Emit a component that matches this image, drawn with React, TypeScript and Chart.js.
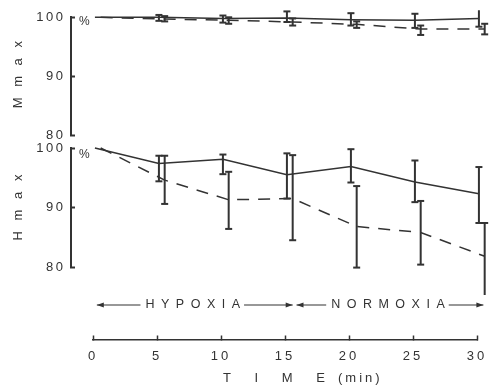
import React, { useEffect, useRef } from 'react';
import { Chart, registerables } from 'chart.js';

Chart.register(...registerables);

// ---------- data ----------
const TIMES = [0, 5, 10, 15, 20, 25, 30];
const X_TICKS = [0, 5, 10, 15, 20, 25, 30];
const Y_TICKS = [80, 90, 100];

// Mmax (upper panel)
const MMAX_SOLID = [100, 100.0, 99.8, 99.9, 99.6, 99.5, 99.8];
const MMAX_SOLID_HI = [null, 100.4, 100.3, 101.0, 100.7, 100.6, 101.2];
const MMAX_SOLID_LO = [null, 99.4, 99.1, 99.2, 98.6, 98.2, 98.4];
const MMAX_DASHED = [100, 99.7, 99.5, 99.2, 98.8, 98.0, 98.0];
const MMAX_DASHED_HI = [null, 100.2, 100.0, 99.8, 99.3, 98.6, 98.9];
const MMAX_DASHED_LO = [null, 99.3, 98.9, 98.6, 98.2, 97.0, 97.1];

// Hmax (lower panel)
const HMAX_SOLID = [100, 97.4, 98.1, 95.5, 96.9, 94.3, 92.3];
const HMAX_SOLID_HI = [null, 98.7, 98.9, 99.1, 99.8, 97.9, 96.8];
const HMAX_SOLID_LO = [null, 94.4, 95.6, 91.5, 94.2, 90.9, 87.4];
const HMAX_DASHED = [100, 94.6, 91.3, 91.5, 86.8, 85.8, 81.8];
const HMAX_DASHED_HI = [null, 98.7, 96.0, 98.8, 93.6, 91.1, 87.4];
const HMAX_DASHED_LO = [null, 90.6, 86.4, 84.5, 79.9, 80.4, 75.3];

const PHASES = [
  { label: 'HYPOXIA', from: 0.3, to: 15.6 },
  { label: 'NORMOXIA', from: 15.9, to: 30.5 },
];

// ---------- layout / style ----------
const W = 503;
const H = 387;
const PX_ZERO = 93; // pixel of t = 0
const PX_PER_MIN = 12.8;
const PLOT_RIGHT_PX = 496;
const TOP_PANEL = { y100: 14.3, y80: 135 };
const BOT_PANEL = { y100: 148, y80: 267 };
const AXIS_PX = 71;
const XAXIS_PX = 340;
const PHASE_Y = 305;
const SOLID_SHIFT = 0.15;
const DASHED_SHIFT = 0.6;
const INK = '#333333';
const FONT = '"Liberation Sans", Arial, sans-serif';

const minAtPx = (px: number) => (px - PX_ZERO) / PX_PER_MIN;

function lineData(vals: number[], shift: number) {
  return TIMES.map((t, i) => ({ x: t + shift, y: vals[i] }));
}

function errData(his: (number | null)[], los: (number | null)[], shift: number) {
  const out: { x: number; y: number | null }[] = [];
  TIMES.forEach((t, i) => {
    if (his[i] == null || los[i] == null) return;
    out.push({ x: t + shift, y: los[i] }, { x: t + shift, y: his[i] }, { x: t + shift, y: null });
  });
  return out;
}

function lineDs(vals: number[], shift: number, dashed: boolean) {
  return {
    data: lineData(vals, shift),
    borderColor: INK,
    borderWidth: 1.5,
    borderDash: dashed ? [12, 9] : [],
    pointRadius: 0,
    tension: 0,
    fill: false,
    clip: false,
  };
}

function errDs(his: (number | null)[], los: (number | null)[], shift: number) {
  return {
    data: errData(his, los, shift),
    borderColor: INK,
    borderWidth: 2,
    spanGaps: false,
    pointStyle: 'line',
    pointRadius: 3.5,
    pointBorderWidth: 2,
    pointBorderColor: INK,
    pointBackgroundColor: INK,
    fill: false,
    clip: false,
  };
}

const spacingPlugin = (spacing: string) => ({
  id: 'labelSpacing',
  beforeDraw(chart: any) {
    (chart.ctx as any).letterSpacing = spacing;
  },
});

function panelConfig(panel: { y100: number; y80: number }, datasets: any[]) {
  return {
    type: 'line',
    data: { datasets },
    options: {
      responsive: false,
      animation: false,
      devicePixelRatio: 1,
      events: [],
      layout: {
        autoPadding: false,
        padding: { left: 0, right: W - PLOT_RIGHT_PX, top: panel.y100, bottom: H - panel.y80 },
      },
      plugins: { legend: { display: false }, tooltip: { enabled: false }, title: { display: false } },
      scales: {
        x: { type: 'linear', min: minAtPx(AXIS_PX), max: minAtPx(PLOT_RIGHT_PX), display: false },
        y: {
          type: 'linear',
          position: 'left',
          min: Y_TICKS[0],
          max: Y_TICKS[Y_TICKS.length - 1],
          afterFit: (s: any) => {
            s.width = AXIS_PX;
          },
          afterBuildTicks: (s: any) => {
            s.ticks = Y_TICKS.map((v) => ({ value: v }));
          },
          border: { display: true, color: INK, width: 2 },
          grid: {
            display: true,
            drawOnChartArea: false,
            drawTicks: true,
            tickLength: -4,
            tickWidth: 2,
            tickColor: INK,
          },
          ticks: { color: INK, font: { family: FONT, size: 13 }, padding: 9.5, autoSkip: false },
        },
      },
    },
    plugins: [spacingPlugin('2.5px')],
  };
}

function arrowHead(ctx: CanvasRenderingContext2D, x: number, y: number, dir: number) {
  ctx.beginPath();
  ctx.moveTo(x, y);
  ctx.lineTo(x - dir * 7, y - 2.5);
  ctx.lineTo(x - dir * 7, y + 2.5);
  ctx.closePath();
  ctx.fill();
}

const textPlugin = {
  id: 'figureText',
  afterDraw(chart: any) {
    const ctx: CanvasRenderingContext2D = chart.ctx;
    const xs = chart.scales.x;
    ctx.save();
    ctx.fillStyle = INK;
    const panels = [
      { p: TOP_PANEL, title: 'M m a x' },
      { p: BOT_PANEL, title: 'H m a x' },
    ];
    panels.forEach(({ p, title }) => {
      ctx.font = `12px ${FONT}`;
      (ctx as any).letterSpacing = '0px';
      ctx.textAlign = 'left';
      ctx.textBaseline = 'middle';
      ctx.fillText('%', AXIS_PX + 8, p.y100 + 7);
      ctx.save();
      ctx.translate(18, (p.y100 + p.y80) / 2);
      ctx.rotate(-Math.PI / 2);
      ctx.font = `13px ${FONT}`;
      (ctx as any).letterSpacing = '3.5px';
      ctx.textAlign = 'center';
      ctx.textBaseline = 'middle';
      ctx.fillText(title, 1.75, 0);
      ctx.restore();
    });

    // x title
    ctx.font = `13px ${FONT}`;
    ctx.textAlign = 'left';
    ctx.textBaseline = 'middle';
    (ctx as any).letterSpacing = '10px';
    ctx.fillText('T I M E', 223, XAXIS_PX + 38);
    (ctx as any).letterSpacing = '3px';
    ctx.fillText('(min)', 338, XAXIS_PX + 38);

    // phase arrows
    ctx.font = `12.5px ${FONT}`;
    (ctx as any).letterSpacing = '6.5px';
    ctx.textAlign = 'center';
    PHASES.forEach((ph) => {
      const a = xs.getPixelForValue(ph.from);
      const b = xs.getPixelForValue(ph.to);
      const c = (a + b) / 2 - 2;
      const w = ctx.measureText(ph.label).width - 6.5;
      ctx.fillText(ph.label, c + 3.25, PHASE_Y);
      const l1 = c - w / 2 - 5;
      const r1 = c + w / 2 + 4;
      ctx.fillRect(a, PHASE_Y - 0.5, l1 - a, 1);
      ctx.fillRect(r1, PHASE_Y - 0.5, b - r1, 1);
      arrowHead(ctx, a, PHASE_Y, -1);
      arrowHead(ctx, b, PHASE_Y, 1);
    });
    ctx.restore();
  },
};

const timeAxisConfig = {
  type: 'line',
  data: { datasets: [] },
  options: {
    responsive: false,
    animation: false,
    devicePixelRatio: 1,
    events: [],
    layout: {
      autoPadding: false,
      padding: { left: PX_ZERO, right: W - (PX_ZERO + 30 * PX_PER_MIN), top: 200, bottom: 0 },
    },
    plugins: { legend: { display: false }, tooltip: { enabled: false }, title: { display: false } },
    scales: {
      x: {
        type: 'linear',
        position: 'bottom',
        min: X_TICKS[0],
        max: X_TICKS[X_TICKS.length - 1],
        afterFit: (s: any) => {
          s.height = H - XAXIS_PX;
        },
        afterBuildTicks: (s: any) => {
          s.ticks = X_TICKS.map((v) => ({ value: v }));
        },
        border: { display: true, color: INK, width: 1.5 },
        grid: {
          display: true,
          drawOnChartArea: false,
          drawTicks: true,
          tickLength: -4.5,
          tickWidth: 1.5,
          tickColor: INK,
        },
        ticks: { color: INK, font: { family: FONT, size: 13 }, padding: 12.7, autoSkip: false, maxRotation: 0 },
      },
      y: { display: false, min: 0, max: 1 },
    },
  },
  plugins: [spacingPlugin('3px'), textPlugin],
};

export default function App() {
  const topRef = useRef<HTMLCanvasElement | null>(null);
  const botRef = useRef<HTMLCanvasElement | null>(null);
  const axRef = useRef<HTMLCanvasElement | null>(null);
  useEffect(() => {
    if (!topRef.current || !botRef.current || !axRef.current) return;
    const top = new Chart(
      topRef.current,
      panelConfig(TOP_PANEL, [
        lineDs(MMAX_SOLID, SOLID_SHIFT, false),
        lineDs(MMAX_DASHED, DASHED_SHIFT, true),
        errDs(MMAX_SOLID_HI, MMAX_SOLID_LO, SOLID_SHIFT),
        errDs(MMAX_DASHED_HI, MMAX_DASHED_LO, DASHED_SHIFT),
      ]) as any
    );
    const bot = new Chart(
      botRef.current,
      panelConfig(BOT_PANEL, [
        lineDs(HMAX_SOLID, SOLID_SHIFT, false),
        lineDs(HMAX_DASHED, DASHED_SHIFT, true),
        errDs(HMAX_SOLID_HI, HMAX_SOLID_LO, SOLID_SHIFT),
        errDs(HMAX_DASHED_HI, HMAX_DASHED_LO, DASHED_SHIFT),
      ]) as any
    );
    const ax = new Chart(axRef.current, timeAxisConfig as any);
    return () => {
      top.destroy();
      bot.destroy();
      ax.destroy();
    };
  }, []);
  const cs: React.CSSProperties = { position: 'absolute', left: 0, top: 0, display: 'block' };
  return (
    <div style={{ position: 'fixed', left: 0, top: 0, width: W, height: H, background: '#fff' }}>
      <canvas ref={topRef} width={W} height={H} style={cs} />
      <canvas ref={botRef} width={W} height={H} style={cs} />
      <canvas ref={axRef} width={W} height={H} style={cs} />
    </div>
  );
}
